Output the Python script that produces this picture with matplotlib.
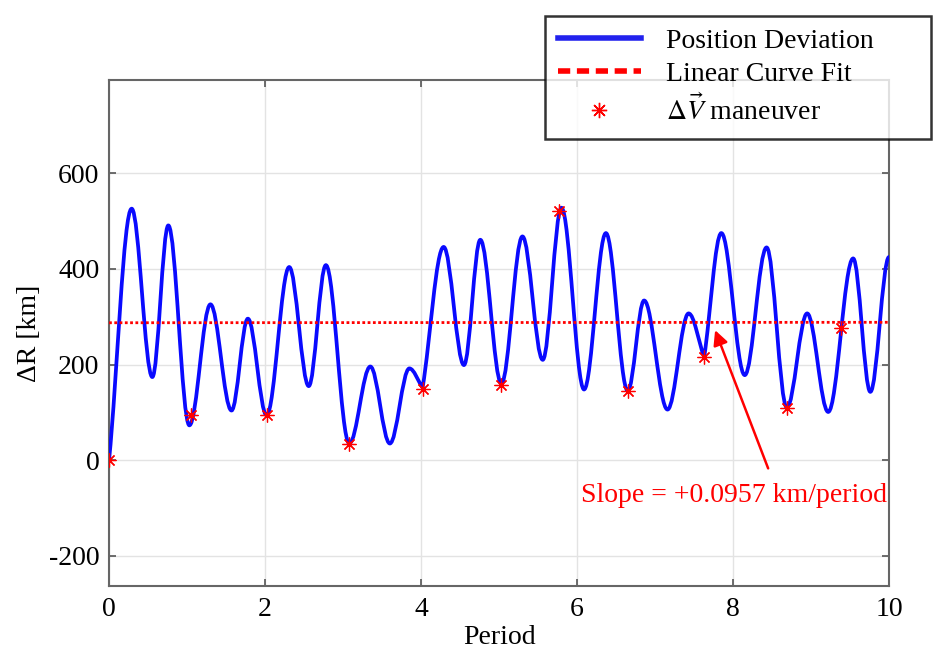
import numpy as np
import matplotlib
matplotlib.use('Agg')
import matplotlib.pyplot as plt
from matplotlib.path import Path
from matplotlib.patches import PathPatch
from matplotlib.lines import Line2D

plt.rcParams['font.family'] = ['Liberation Serif', 'DejaVu Serif']
plt.rcParams['mathtext.fontset'] = 'stix'
plt.rcParams['axes.unicode_minus'] = False

# turning points of the position deviation (period, km)
t_ext = [0, 0.29, 0.555, 0.76, 1.03, 1.30, 1.57, 1.78, 2.02, 2.31, 2.56, 2.78,
         3.08, 3.35, 3.60, 3.85, 4.02, 4.29, 4.55, 4.76, 5.03, 5.30, 5.56, 5.80,
         6.09, 6.37, 6.65, 6.86, 7.16, 7.43, 7.63, 7.85, 8.15, 8.43, 8.69, 8.95,
         9.22, 9.54, 9.76, 10.0]
r_ext = [0, 526, 174, 491, 73, 326, 104, 296, 94, 404, 155, 408,
         35, 196, 35, 192, 152, 446, 199, 461, 160, 468, 210, 528,
         148, 475, 145, 334, 106, 307, 216, 475, 178, 445, 110, 307,
         101, 422, 143, 425]
# points where the curve has a kink instead of a smooth turn
kinks = [0, 16, 30]

# delta-V maneuvers
t_man = [0, 1.05, 2.02, 3.08, 4.03, 5.03, 5.77, 6.65, 7.63, 8.69, 9.39]
r_man = [0, 95, 94, 33, 150, 158, 521, 145, 215, 109, 277]

# linear fit
slope = 0.0957
r0 = 287.5
t_fit = [0, 10]
r_fit = [r0 + slope * t for t in t_fit]

fig = plt.figure(figsize=(9.4, 6.55), dpi=100)
ax = fig.add_axes([0.116, 0.1053, 0.8298, 0.7725])

# smooth curve through the turning points with cubic bezier segments
verts = [(t_ext[0], r_ext[0])]
codes = [Path.MOVETO]
k = 0.36
for i in range(len(t_ext) - 1):
    x0, y0, x1, y1 = t_ext[i], r_ext[i], t_ext[i + 1], r_ext[i + 1]
    dx = x1 - x0
    s0 = 0.0
    s1 = 0.0
    if i in kinks:
        s0 = 0.9 * (y1 - y0) / dx
    if i + 1 in kinks:
        s1 = 0.9 * (y1 - y0) / dx
    verts += [(x0 + k * dx, y0 + s0 * k * dx), (x1 - k * dx, y1 - s1 * k * dx), (x1, y1)]
    codes += [Path.CURVE4] * 3
ax.add_patch(PathPatch(Path(verts, codes), facecolor='none', edgecolor='#0a0aff',
                       lw=2.7, zorder=3, capstyle='round', joinstyle='round'))

ax.plot(t_fit, r_fit, color='red', lw=2.0, ls=(0, (1.0, 0.9)), zorder=4)
ast = (8, 2, 0)
ax.plot(t_man, r_man, ls='none', marker=ast, ms=10, mew=0.9, color='red', zorder=5)

ax.set_xlim(0, 10)
ax.set_ylim(-263, 795)
ax.set_xticks([0, 2, 4, 6, 8, 10])
ax.set_yticks([-200, 0, 200, 400, 600])
ax.grid(True, color='#e3e3e3', lw=1.0)
ax.set_axisbelow(True)
ax.tick_params(direction='in', top=True, right=True, labelsize=20, length=5,
               width=1.2, color='#555555')
ax.tick_params(axis='x', pad=8)
ax.tick_params(axis='y', pad=7)
for sp in ax.spines.values():
    sp.set_color('#666666')
    sp.set_linewidth(1.5)
ax.set_xlabel('Period', fontsize=20, labelpad=2)
ax.set_ylabel('ΔR [km]', fontsize=20, labelpad=5)

ax.annotate('', xy=(7.77, 272), xytext=(8.45, -17),
            arrowprops=dict(arrowstyle='-|>', color='red', lw=1.8,
                            mutation_scale=22, shrinkA=0, shrinkB=0))
ax.text(9.98, -73, 'Slope = +0.0957 km/period', color='red', fontsize=20,
        ha='right', va='center')

handles = [Line2D([], [], color='#2222ee', lw=4),
           Line2D([], [], color='red', lw=4, ls=(0, (2.2, 1.2))),
           Line2D([], [], ls='none', marker=ast, ms=11, mew=1.0, color='red')]
labels = ['Position Deviation', 'Linear Curve Fit', r'$\Delta\vec{V}$ maneuver']
leg = fig.legend(handles, labels, loc='upper left', mode='expand',
                 bbox_to_anchor=(0.58, 0.792, 0.41, 0.184),
                 fontsize=20, frameon=True, fancybox=False, handlelength=3.0,
                 handletextpad=0.9, labelspacing=0.28, borderpad=0.45,
                 borderaxespad=0)
leg.get_frame().set_edgecolor('black')
leg.get_frame().set_linewidth(1.8)

fig.savefig('out.png', dpi=100)
